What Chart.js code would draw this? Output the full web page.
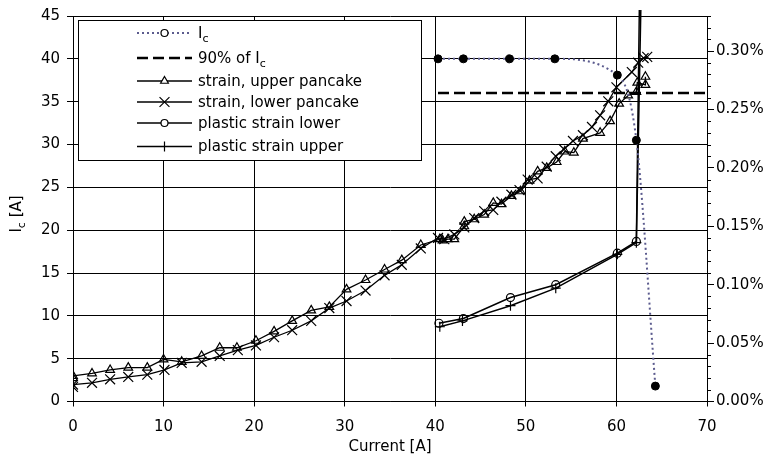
<!DOCTYPE html>
<html><head><meta charset="utf-8">
<script src="https://cdn.jsdelivr.net/npm/chart.js@4.4.0/dist/chart.umd.min.js"></script>
<style>html,body{margin:0;padding:0;background:#fff}canvas{display:block}</style>
</head><body>
<canvas id="c" width="771" height="472"></canvas>
<script>
// ---- tick labels ----
const xTicks = [0, 10, 20, 30, 40, 50, 60, 70];
const yTicks = [0, 5, 10, 15, 20, 25, 30, 35, 40, 45];
const y2Ticks = [0, 0.05, 0.10, 0.15, 0.20, 0.25, 0.30];
const y2Max = 0.33;
const y2MinorStep = 0.01;

// ---- Ic (left axis, A) ----
const icCurrent = [40.3, 43.1, 48.2, 53.2, 60.1, 62.2, 64.3];
const icValue   = [40, 40, 40, 40, 38.1, 30.5, 1.8];

// ---- 90% of Ic ----
const ic90Current = [40.3, 70];
const ic90Value   = [36, 36];

// ---- strain, upper pancake (right axis, %) ----
const upperCurrent = [0,0,2.1,4.1,6.1,8.2,10.0,12.0,14.2,16.2,18.1,20.2,22.2,24.2,26.3,28.3,30.2,32.3,34.4,36.3,38.4,40.5,40.8,41.4,42.1,43.2,43.2,44.3,45.4,46.4,47.3,48.4,49.4,50.4,51.3,52.3,53.4,54.3,55.3,56.3,58.2,59.3,60.3,61.3,62.2,62.3,63.2,63.2];
const upperStrain  = [0.020,0.022,0.024,0.027,0.029,0.029,0.036,0.034,0.039,0.046,0.046,0.052,0.060,0.069,0.078,0.081,0.096,0.104,0.113,0.121,0.134,0.139,0.138,0.139,0.139,0.150,0.154,0.156,0.160,0.170,0.169,0.176,0.180,0.189,0.197,0.200,0.205,0.214,0.213,0.225,0.230,0.240,0.255,0.262,0.265,0.273,0.271,0.278];

// ---- strain, lower pancake ----
const lowerCurrent = [0,0,2.1,4.1,6.1,8.2,10.1,12.0,14.2,16.2,18.2,20.2,22.2,24.2,26.3,28.3,30.2,32.3,34.4,36.3,38.4,40.3,41.0,42.1,43.2,44.3,45.4,46.4,47.3,48.4,49.3,50.2,51.3,52.3,53.3,54.2,55.2,56.3,57.3,58.2,59.1,60.0,61.7,62.4,63.0,63.4];
const lowerStrain  = [0.0125,0.0145,0.016,0.019,0.021,0.023,0.027,0.033,0.034,0.039,0.044,0.048,0.055,0.061,0.069,0.080,0.086,0.095,0.108,0.117,0.131,0.140,0.139,0.143,0.149,0.157,0.163,0.164,0.171,0.177,0.181,0.190,0.191,0.201,0.210,0.216,0.223,0.228,0.235,0.245,0.257,0.269,0.282,0.290,0.294,0.295];

// ---- plastic strain lower / upper ----
const plasticLowerCurrent = [40.4, 43.1, 48.3, 53.3, 60.1, 62.2, 62.8];
const plasticLowerStrain  = [0.067, 0.071, 0.089, 0.100, 0.127, 0.137, 0.5];
const plasticUpperCurrent = [40.5, 43.0, 48.3, 53.3, 60.1, 62.2, 63.1];
const plasticUpperStrain  = [0.064, 0.069, 0.082, 0.097, 0.126, 0.136, 0.5];

const FONT = '"DejaVu Sans", sans-serif';
Chart.defaults.font.family = FONT;
Chart.defaults.font.size = 15;
Chart.defaults.color = '#000';

const IC_COLOR = '#5b5b8e';
const toXY = (xs, ys) => xs.map((x, i) => ({x: x, y: ys[i]}));
const NOFILL = 'rgba(0,0,0,0)';

function marker(ctx, style, x, y, r) {
  ctx.save();
  ctx.setLineDash([]);
  ctx.strokeStyle = '#000'; ctx.lineWidth = 1.2;
  ctx.beginPath();
  if (style === 'triangle') {
    for (let k = 0; k < 3; k++) {
      const a = k * 2 * Math.PI / 3;
      const px = x + Math.sin(a) * r, py = y - Math.cos(a) * r;
      if (k === 0) ctx.moveTo(px, py); else ctx.lineTo(px, py);
    }
    ctx.closePath(); ctx.fillStyle = '#fff'; ctx.fill(); ctx.stroke();
  } else if (style === 'crossRot') {
    const d = r * Math.SQRT1_2;
    ctx.moveTo(x - d, y - d); ctx.lineTo(x + d, y + d);
    ctx.moveTo(x - d, y + d); ctx.lineTo(x + d, y - d); ctx.stroke();
  } else if (style === 'cross') {
    ctx.moveTo(x - r, y); ctx.lineTo(x + r, y);
    ctx.moveTo(x, y - r); ctx.lineTo(x, y + r); ctx.stroke();
  } else {
    ctx.arc(x, y, r, 0, Math.PI * 2); ctx.fillStyle = '#fff'; ctx.fill(); ctx.stroke();
  }
  ctx.restore();
}

function richText(ctx, parts, x, y, size) {
  let cx = x;
  for (const [t, sub] of parts) {
    ctx.font = (sub ? Math.round(size * 0.72) : size) + 'px ' + FONT;
    ctx.fillText(t, cx, sub ? y + size * 0.33 : y);
    cx += ctx.measureText(t).width;
  }
  return cx - x;
}
function richWidth(ctx, parts, size) {
  let w = 0;
  for (const [t, sub] of parts) {
    ctx.font = (sub ? Math.round(size * 0.72) : size) + 'px ' + FONT;
    w += ctx.measureText(t).width;
  }
  return w;
}
function splitSub(label) {
  if (label.endsWith('Ic')) return [[label.slice(0, -1), false], ['c', true]];
  return [[label, false]];
}

const decor = {
  id: 'decor',
  afterDraw(chart) {
    const ctx = chart.ctx, area = chart.chartArea, y2 = chart.scales.y2;
    ctx.save();
    ctx.strokeStyle = '#000'; ctx.lineWidth = 1;
    for (let k = 1; k * y2MinorStep <= y2Max + 1e-9; k++) {
      if (k % 5 === 0) continue;
      const py = Math.round(y2.getPixelForValue(k * y2MinorStep)) + 0.5;
      ctx.beginPath(); ctx.moveTo(area.right, py); ctx.lineTo(area.right + 4, py); ctx.stroke();
    }
    ctx.fillStyle = '#000'; ctx.textBaseline = 'middle'; ctx.textAlign = 'left';
    const tparts = [['I', false], ['c', true], [' [A]', false]];
    ctx.save();
    ctx.translate(17, 214);
    ctx.rotate(-Math.PI / 2);
    richText(ctx, tparts, -richWidth(ctx, tparts, 15) / 2, 0, 15);
    ctx.restore();
    ctx.fillStyle = '#fff';
    ctx.fillRect(78.5, 20.5, 343, 140);
    ctx.strokeStyle = '#000'; ctx.lineWidth = 1;
    ctx.strokeRect(78.5, 20.5, 343, 140);
    const rowY = [33, 58, 81, 102, 123, 146.5];
    const x0 = 137, x1 = 192, xm = 164.5, tx = 198;
    chart.data.datasets.forEach((ds, i) => {
      const y = rowY[i];
      ctx.save();
      ctx.strokeStyle = ds.borderColor; ctx.lineWidth = ds.borderWidth;
      ctx.setLineDash(ds.borderDash || []);
      ctx.beginPath(); ctx.moveTo(x0, y); ctx.lineTo(x1, y); ctx.stroke();
      ctx.restore();
      if (ds.legendMarker) marker(ctx, ds.legendMarker, xm, y, ds.legendRadius);
      ctx.fillStyle = '#000'; ctx.textBaseline = 'middle';
      richText(ctx, splitSub(ds.label), tx, y + 1, 15);
    });
    ctx.restore();
  }
};

const clipTop = {left: 0, top: 6, right: 0, bottom: 0};

new Chart(document.getElementById('c'), {
  type: 'line',
  data: {
    datasets: [
      {label: 'Ic', data: toXY(icCurrent, icValue), yAxisID: 'y',
       borderColor: IC_COLOR, borderDash: [2, 3], borderWidth: 2, cubicInterpolationMode: 'monotone',
       pointStyle: 'circle', pointRadius: 4, pointBackgroundColor: '#000', pointBorderColor: '#000',
       pointBorderWidth: 1, legendMarker: 'circle', legendRadius: 3.5},
      {label: '90% of Ic', data: toXY(ic90Current, ic90Value), yAxisID: 'y',
       borderColor: '#000', borderDash: [11, 5], borderWidth: 2.5, pointRadius: 0},
      {label: 'strain, upper pancake', data: toXY(upperCurrent, upperStrain), yAxisID: 'y2',
       borderColor: '#000', borderWidth: 1.3, tension: 0, pointStyle: 'triangle', pointRadius: 5,
       pointBorderColor: '#000', pointBackgroundColor: NOFILL, pointBorderWidth: 1.2,
       legendMarker: 'triangle', legendRadius: 4.5},
      {label: 'strain, lower pancake', data: toXY(lowerCurrent, lowerStrain), yAxisID: 'y2',
       borderColor: '#000', borderWidth: 1.3, tension: 0, pointStyle: 'crossRot', pointRadius: 7,
       pointBorderColor: '#000', pointBackgroundColor: NOFILL, pointBorderWidth: 1.2,
       legendMarker: 'crossRot', legendRadius: 7},
      {label: 'plastic strain lower', data: toXY(plasticLowerCurrent, plasticLowerStrain), yAxisID: 'y2',
       borderColor: '#000', borderWidth: 1.5, tension: 0, pointStyle: 'circle', pointRadius: 4,
       pointBorderColor: '#000', pointBackgroundColor: NOFILL, pointBorderWidth: 1.2, clip: clipTop,
       legendMarker: 'circle', legendRadius: 3.5},
      {label: 'plastic strain upper', data: toXY(plasticUpperCurrent, plasticUpperStrain), yAxisID: 'y2',
       borderColor: '#000', borderWidth: 1.5, tension: 0, pointStyle: 'cross', pointRadius: 5,
       pointBorderColor: '#000', pointBackgroundColor: NOFILL, pointBorderWidth: 1.2, clip: clipTop,
       legendMarker: 'cross', legendRadius: 5}
    ]
  },
  options: {
    responsive: false, animation: false, devicePixelRatio: 1,
    layout: {padding: {top: 13, left: 0, right: 0, bottom: 0}},
    plugins: {legend: {display: false}, tooltip: {enabled: false}},
    scales: {
      x: {type: 'linear', min: 0, max: 70,
          afterBuildTicks: s => { s.ticks = xTicks.map(v => ({value: v})); },
          ticks: {padding: 12, maxRotation: 0},
          grid: {color: '#000', lineWidth: 1, tickLength: 5},
          border: {color: '#000', width: 1},
          title: {display: true, text: 'Current [A]', padding: {top: 0, bottom: 16}},
          afterFit: s => { s.height = 70.5; }},
      y: {type: 'linear', position: 'left', min: 0, max: 45,
          afterBuildTicks: s => { s.ticks = yTicks.map(v => ({value: v})); },
          ticks: {padding: 7},
          grid: {color: '#000', lineWidth: 1, tickLength: 6},
          border: {color: '#000', width: 1},
          afterFit: s => { s.width = 73; }},
      y2: {type: 'linear', position: 'right', min: 0, max: y2Max,
          afterBuildTicks: s => { s.ticks = y2Ticks.map(v => ({value: v})); },
          ticks: {padding: 2, callback: v => v.toFixed(2) + '%'},
          grid: {drawOnChartArea: false, color: '#000', lineWidth: 1, tickLength: 7},
          border: {color: '#000', width: 1},
          afterFit: s => { s.width = 64; }}
    }
  },
  plugins: [decor]
});
</script>
</body></html>
